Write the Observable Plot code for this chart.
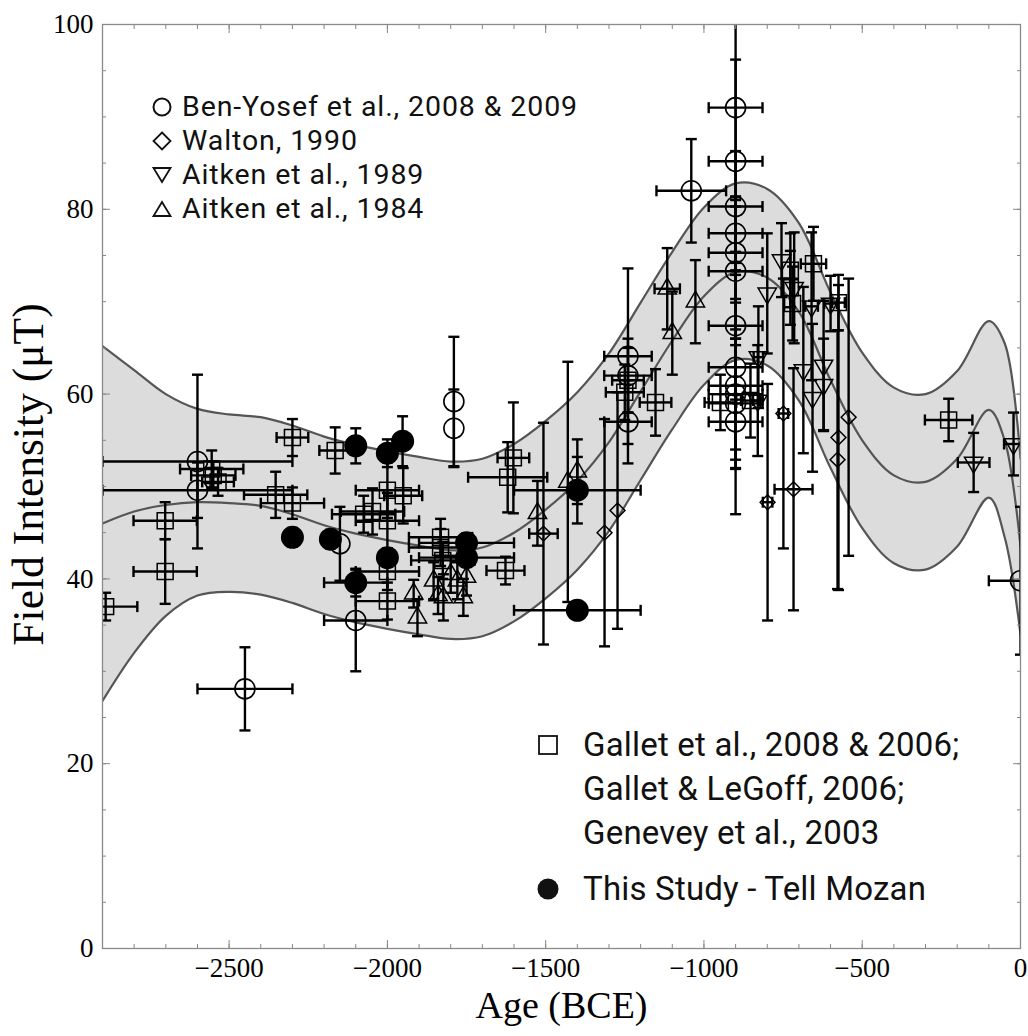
<!DOCTYPE html>
<html><head><meta charset="utf-8">
<script src="https://cdn.jsdelivr.net/npm/d3@7"></script>
<script src="https://cdn.jsdelivr.net/npm/@observablehq/plot@0.6"></script>
<style>
body{margin:0;background:#fff;}
#wrap{position:relative;width:1028px;height:1036px;}
.leg{position:absolute;font-family:Roboto,"Open Sans",sans-serif;color:#111;white-space:nowrap;display:flex;align-items:center;}
.legT{font-size:28.5px;line-height:34px;letter-spacing:0.9px;}
.legB{font-size:33px;line-height:44px;letter-spacing:0.2px;}
</style></head><body><div id="wrap"></div>
<script>
// ---- smoothed model band (years BCE, µT) ----
const bandX      = [-2900,-2800,-2700,-2600,-2500,-2400,-2300,-2200,-2100,-2000,-1900,-1800,-1700,-1600,-1500,-1400,-1300,-1200,-1100,-1000,-900,-800,-700,-600,-500,-400,-300,-200,-100,-50,0];
const bandUpper  = [65.2,62.6,60.0,58.4,57.8,57.5,56.6,55.4,54.5,53.8,53.2,52.7,53.0,54.6,57.1,60.2,64.4,69.9,75.4,80.2,82.8,82.2,78.5,71.0,64.5,60.7,60.0,62.5,67.9,65.5,53.0];
const bandMiddle = [46.0,47.3,48.0,48.3,48.2,47.9,47.0,45.8,44.9,44.2,43.6,43.1,43.4,45.0,47.5,50.6,54.8,60.3,65.8,70.6,73.2,72.6,68.9,61.5,55.0,51.2,50.5,53.0,58.3,55.0,43.5];
const bandLower  = [26.8,32.0,36.0,38.2,38.6,38.3,37.4,36.2,35.3,34.6,34.0,33.5,33.8,35.4,37.9,41.0,45.2,50.7,56.2,61.0,63.7,63.1,59.3,52.0,45.5,41.7,41.0,43.5,48.8,44.5,34.0];

// ---- data: [age, intensity, ageError, intensityError] ----
const benYosef = [
  [-2600,52.7,300,9.4],[-2600,49.6,300,3.0],[-2450,28.1,150,4.5],[-2150,43.8,0,4.0],[-2100,35.5,100,5.5],
  [-1790,59.2,0,7.0],[-1790,56.3,0,4.2],[-1240,64.1,75,9.5],[-1240,62.0,75,4.0],[-1240,57.0,75,4.5],
  [-1040,82.0,110,5.6],[-900,91.0,85,10],[-900,85.2,85,11],[-900,80.3,85,6],[-900,77.4,85,4],[-900,75.3,85,5],
  [-900,73.3,85,8],[-900,67.4,85,8],[-900,62.9,85,10],[-900,60.9,85,9],[-900,60.0,85,6],[-900,59.0,85,7],
  [-900,57.0,85,10],[0,39.8,100,8]
];
const walton = [
  [-1507,44.9,45,12],[-1314,45.0,0,12.3],[-1273,47.4,0,12.8],[-799,48.3,15,12.8],[-749,57.9,15,14.6],
  [-717,49.7,60,13.1],[-578,52.9,0,14],[-575,55.3,0,16.5],[-543,57.5,0,15]
];
const aitken1989 = [
  [-828,64.0,15,5.5],[-830,59.3,15,6],[-800,70.9,0,6.5],[-755,74.5,0,4],[-715,71.5,0,6],[-686,62.6,0,9],
  [-657,59.6,0,8],[-660,69.5,20,8],[-622,63.1,0,7],[-622,61.0,0,5],[-600,69.8,20,3],[-148,52.6,50,3.2],[-22,54.6,30,3.4]
];
const aitken1984 = [
  [-1917,38.4,0,1.5],[-1905,35.8,0,2],[-1854,39.8,0,2],[-1840,38.2,0,2],[-1823,38.0,0,2.5],[-1800,40.5,0,2],
  [-1779,39.8,0,2],[-1760,38.0,0,2],[-1750,40.2,0,2],[-1526,47.1,0,3.5],[-1430,50.5,0,13],[-1400,51.6,0,3.5],
  [-1116,71.4,40,4.4],[-1100,66.6,0,4.5],[-1027,70.0,0,4.5]
];
const gallet = [
  [-2890,37.0,100,1.5],[-2702,46.3,100,2],[-2702,40.8,100,3.5],[-2555,51.9,100,2],[-2550,51.2,70,1.5],[-2535,50.5,50,1.5],
  [-2353,49.1,100,2.5],[-2300,48.2,100,1.7],[-2300,55.3,50,2],[-2165,53.9,50,2.5],[-2075,47.0,100,2],[-2047,47.3,100,2.5],
  [-2000,49.6,100,3],[-1950,49.0,60,3],[-2000,46.3,100,3],[-2000,40.8,100,2],[-2000,37.6,100,2],[-1832,44.5,100,2],
  [-1832,43.4,100,2],[-1825,42.0,100,2],[-1627,40.9,60,1.5],[-1602,53.1,50,6],[-1620,51.0,125,3.8],[-1240,61.5,50,3.5],
  [-1250,60.2,60,3],[-1153,59.1,50,3.6],[-948,59.1,50,3],[-853,59.3,30,4],[-727,73.4,0,4],[-727,71.5,0,4],
  [-720,69.8,0,4],[-654,74.1,40,4],[-575,69.9,20,3],[-227,57.2,75,2.3]
];
const tellMozan = [
  [-2300,44.5,0,1],[-2180,44.3,25,1],[-2100,54.4,0,1.9],[-2000,53.6,0,1.5],[-1952,54.9,0,2.7],[-2000,42.3,0,1],
  [-2100,39.6,100,1.5],[-1750,43.9,150,1],[-1750,42.3,150,1],[-1400,49.6,200,3.6],[-1400,36.6,200,0]
];

const xMajorTicks = [-2500,-2000,-1500,-1000,-500,0];
const yMajorTicks = [0,20,40,60,80,100];
const xMinorTicks = d3.range(-2900, 1, 100);
const yMinorTicks = d3.range(0, 101, 5);
const xTitle = "Age (BCE)";
const yTitle = "Field Intensity (μT)";

// ---- build ----
const band = bandX.map((x, i) => ({x, lo: bandLower[i], mid: bandMiddle[i], hi: bandUpper[i]}));
const toRows = (arr, set) => arr.map(([x, y, dx, dy]) => ({set, x, y, dx, dy}));
const all = [...toRows(gallet,"g"),...toRows(aitken1984,"a84"),...toRows(aitken1989,"a89"),...toRows(walton,"w"),...toRows(benYosef,"b"),...toRows(tellMozan,"t")];
const vBars = all.filter(d => d.dy > 0);
const hBars = all.filter(d => d.dx > 0);
const vCaps = vBars.flatMap(d => [{x: d.x, y: d.y - d.dy}, {x: d.x, y: d.y + d.dy}]);
const hCaps = hBars.flatMap(d => [{x: d.x - d.dx, y: d.y}, {x: d.x + d.dx, y: d.y}]);
const capH = {draw(ctx){ctx.moveTo(-5.5,0);ctx.lineTo(5.5,0);}};
const capV = {draw(ctx){ctx.moveTo(0,-5.5);ctx.lineTo(0,5.5);}};
const fmt = d => d < 0 ? "\u2212" + Math.abs(d) : String(d);
const EB = {stroke: "black", strokeWidth: 2.4, clip: true};
const serif = '"Liberation Serif","Times New Roman",serif';

const chart = Plot.plot({
  width: 1028, height: 1036,
  marginLeft: 102, marginRight: 8, marginTop: 24, marginBottom: 88,
  x: {domain: [-2900, 0]},
  y: {domain: [0, 100]},
  style: {fontFamily: serif, background: "white", overflow: "visible"},
  marks: [
    Plot.areaY(band, {x: "x", y1: "lo", y2: "hi", fill: "#dcdcdc", curve: "catmull-rom", clip: true}),
    ...["lo", "mid", "hi"].map(k => Plot.lineY(band, {x: "x", y: k, stroke: "#555", strokeWidth: 2.2, curve: "catmull-rom", clip: true})),
    Plot.ruleX(vBars, {x: "x", y1: d => d.y - d.dy, y2: d => d.y + d.dy, ...EB}),
    Plot.ruleY(hBars, {y: "y", x1: d => d.x - d.dx, x2: d => d.x + d.dx, ...EB}),
    Plot.dot(vCaps, {x: "x", y: "y", symbol: capH, r: 3, fill: "none", ...EB}),
    Plot.dot(hCaps, {x: "x", y: "y", symbol: capV, r: 3, fill: "none", ...EB}),
    Plot.dot(gallet, {x: d => d[0], y: d => d[1], symbol: "square", r: 9, fill: "none", stroke: "black", strokeWidth: 1.5, clip: true}),
    Plot.dot(aitken1984, {x: d => d[0], y: d => d[1], symbol: "triangle", r: 6.8, fill: "none", stroke: "black", strokeWidth: 1.5, clip: true}),
    Plot.dot(aitken1989, {x: d => d[0], y: d => d[1], symbol: "triangle", rotate: 180, r: 6.8, fill: "none", stroke: "black", strokeWidth: 1.5, clip: true}),
    Plot.dot(walton, {x: d => d[0], y: d => d[1], symbol: "diamond2", r: 6.7, fill: "none", stroke: "black", strokeWidth: 1.5, clip: true}),
    Plot.dot(benYosef, {x: d => d[0], y: d => d[1], symbol: "circle", r: 10, fill: "none", stroke: "black", strokeWidth: 1.6, clip: true}),
    Plot.dot(tellMozan, {x: d => d[0], y: d => d[1], symbol: "circle", r: 11.5, fill: "black", stroke: "none", clip: true}),
    Plot.frame({stroke: "#8a8a8a", strokeWidth: 1.3}),
    Plot.axisX(xMinorTicks, {anchor: "bottom", tickSize: -4, tickFormat: () => "", color: "#888", label: null}),
    Plot.axisX(xMajorTicks, {anchor: "bottom", tickSize: -8, tickFormat: () => "", color: "#888", label: null}),
    Plot.axisX(xMinorTicks, {anchor: "top", tickSize: -4, tickFormat: () => "", color: "#888", label: null}),
    Plot.axisX(xMajorTicks, {anchor: "top", tickSize: -8, tickFormat: () => "", color: "#888", label: null}),
    Plot.axisY(yMinorTicks, {anchor: "left", tickSize: -4, tickFormat: () => "", color: "#888", label: null}),
    Plot.axisY(yMajorTicks, {anchor: "left", tickSize: -8, tickFormat: () => "", color: "#888", label: null}),
    Plot.axisY(yMinorTicks, {anchor: "right", tickSize: -4, tickFormat: () => "", color: "#888", label: null}),
    Plot.axisY(yMajorTicks, {anchor: "right", tickSize: -8, tickFormat: () => "", color: "#888", label: null}),
    Plot.axisX(xMajorTicks, {anchor: "bottom", tickSize: 0, tickPadding: 9, tickFormat: fmt, fontSize: 27, color: "black", label: null}),
    Plot.axisY(yMajorTicks, {anchor: "left", tickSize: 0, tickPadding: 9, tickFormat: fmt, fontSize: 27, color: "black", label: null}),
    Plot.text([xTitle], {frameAnchor: "bottom", textAnchor: "middle", lineAnchor: "middle", dy: 57, fontSize: 38, fill: "black"}),
    Plot.text([yTitle], {frameAnchor: "left", textAnchor: "middle", dx: -73, dy: -12, rotate: -90, fontSize: 43.5, fill: "black"})
  ]
});
const wrap = document.getElementById("wrap");
wrap.appendChild(chart);

// ---- legends ----
const sym = {
  circle: '<circle cx="11" cy="11" r="8.5" fill="none" stroke="#111" stroke-width="2"/>',
  diamond: '<path d="M11,2.5 L19.5,11 L11,19.5 L2.5,11Z" fill="none" stroke="#111" stroke-width="1.8"/>',
  down: '<path d="M2.5,4 L19.5,4 L11,18Z" fill="none" stroke="#111" stroke-width="1.8"/>',
  up: '<path d="M2.5,18 L19.5,18 L11,4Z" fill="none" stroke="#111" stroke-width="1.8"/>',
  square: '<rect x="2" y="2" width="18" height="18" fill="none" stroke="#111" stroke-width="1.8"/>',
  filled: '<circle cx="11" cy="11" r="10.5" fill="#111"/>'
};
const legendTop = [["circle","Ben-Yosef et al., 2008 &amp; 2009"],["diamond","Walton, 1990"],["down","Aitken et al., 1989"],["up","Aitken et al., 1984"]];
const legendBottom = [["square","Gallet et al., 2008 &amp; 2006;"],[null,"Gallet &amp; LeGoff, 2006;"],[null,"Genevey et al., 2003"],["filled","This Study - Tell Mozan"]];
function addLegend(rows, cls, left, gap, tops, lh) {
  rows.forEach(([s, t], i) => {
    const d = document.createElement("div");
    d.className = "leg " + cls;
    d.style.left = left + "px";
    d.style.top = (tops[i] - lh / 2) + "px";
    d.innerHTML = `<svg width="22" height="22" style="margin-right:${gap}px;visibility:${s ? "visible" : "hidden"}">${s ? sym[s] : ""}</svg><span>${t}</span>`;
    wrap.appendChild(d);
  });
}
addLegend(legendTop, "legT", 151, 9, [107, 141, 175, 209], 34);
addLegend(legendBottom, "legB", 537, 24, [745, 789, 833, 889], 44);
</script></body></html>
